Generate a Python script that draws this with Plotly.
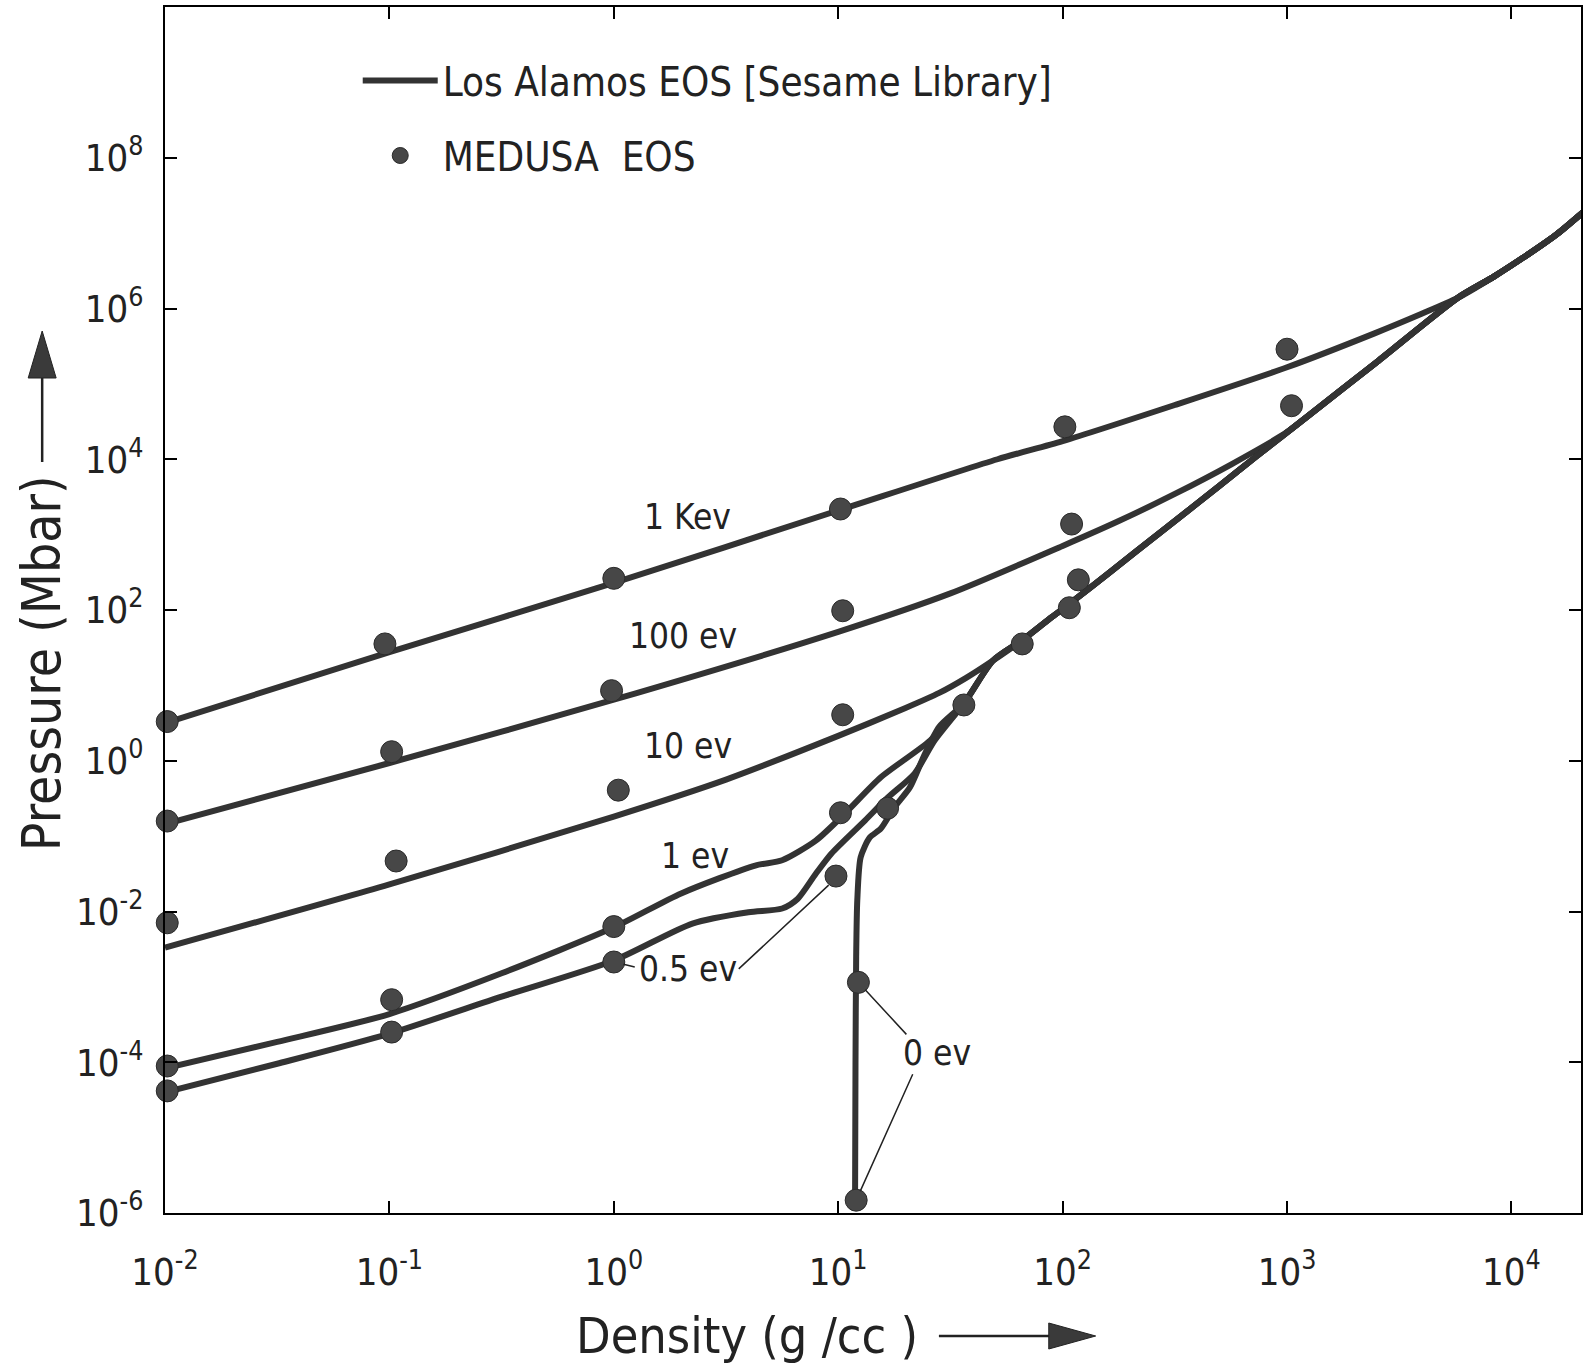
import plotly.graph_objects as go

# ---------------- data (log10 density g/cc, log10 pressure Mbar) ----------------
# Los Alamos EOS (Sesame) curves
KEV1_LOG_RHO = [-2.0, -1.0, 0.0, 1.0, 1.71, 2.0, 2.5, 3.0, 3.39, 3.6]
KEV1_LOG_P   = [0.50, 1.44, 2.36, 3.32, 4.00, 4.24, 4.72, 5.22, 5.67, 5.93]

EV100_LOG_RHO = [-2.0, -1.0, 0.0, 1.0, 1.5, 2.0, 2.25, 2.5, 2.75, 3.0]
EV100_LOG_P   = [-0.84, -0.03, 0.81, 1.71, 2.22, 2.85, 3.18, 3.54, 3.93, 4.36]

# high-density part shared by the merging curves
HOT_TAIL_LOG_RHO = [3.76, 3.92, 4.08, 4.2, 4.32]
HOT_TAIL_LOG_P   = [6.14, 6.42, 6.73, 6.98, 7.28]

COLD_MID_LOG_RHO = [1.69, 1.82, 1.94, 2.03, 2.21, 2.44, 2.7, 2.86, 3.1, 3.4]
COLD_MID_LOG_P   = [1.33, 1.60, 1.88, 2.08, 2.50, 3.04, 3.65, 4.03, 4.59, 5.29]

EV10_LOG_RHO = [-2.0, -1.0, 0.0, 0.5, 1.0, 1.3, 1.45, 1.57]
EV10_LOG_P   = [-2.48, -1.64, -0.74, -0.25, 0.33, 0.70, 0.90, 1.10]

EV1_LOG_RHO = [-2.0, -1.5, -1.0, -0.5, 0.0, 0.3, 0.63, 0.75, 0.90, 1.03, 1.19, 1.41, 1.56]
EV1_LOG_P   = [-4.08, -3.73, -3.36, -2.82, -2.21, -1.76, -1.39, -1.32, -1.06, -0.70, -0.22, 0.27, 0.76]

EV05_LOG_RHO = [-2.0, -1.5, -1.0, -0.5, 0.0, 0.35, 0.60, 0.75, 0.82, 0.90, 0.97, 1.12, 1.22, 1.34, 1.43, 1.56]
EV05_LOG_P   = [-4.40, -4.02, -3.62, -3.13, -2.65, -2.16, -2.01, -1.96, -1.83, -1.50, -1.23, -0.79, -0.49, -0.17, 0.27, 0.76]

EV0_LOG_RHO = [1.075, 1.077, 1.08, 1.085, 1.10, 1.14, 1.19, 1.25, 1.32, 1.38, 1.45, 1.56]
EV0_LOG_P   = [-5.90, -4.0, -2.6, -1.85, -1.28, -1.02, -0.90, -0.62, -0.35, 0.05, 0.45, 0.76]

# MEDUSA EOS points
M_KEV1_LOG_RHO = [-1.99, -1.02, 0.0, 1.01, 2.01, 3.0]
M_KEV1_LOG_P   = [0.52, 1.55, 2.42, 3.34, 4.43, 5.46]
M_EV100_LOG_RHO = [-1.99, -0.99, -0.01, 1.02, 2.04, 3.02]
M_EV100_LOG_P   = [-0.80, 0.12, 0.93, 1.99, 3.14, 4.71]
M_EV10_LOG_RHO = [-1.99, -0.97, 0.02, 1.02, 2.07]
M_EV10_LOG_P   = [-2.15, -1.33, -0.39, 0.61, 2.40]
M_EV1_LOG_RHO = [-1.99, -0.99, 0.0, 1.01, 2.03]
M_EV1_LOG_P   = [-4.05, -3.17, -2.20, -0.69, 2.03]
M_EV05_LOG_RHO = [-1.99, -0.99, 0.0, 0.99, 1.82]
M_EV05_LOG_P   = [-4.38, -3.60, -2.67, -1.53, 1.55]
M_EV0_LOG_RHO = [1.08, 1.09, 1.22, 1.56]
M_EV0_LOG_P   = [-5.83, -2.94, -0.63, 0.74]

X_TICK_EXP = [-2, -1, 0, 1, 2, 3, 4]
Y_TICK_EXP = [-6, -4, -2, 0, 2, 4, 6, 8]

# curve labels: (text, log rho, log p)
CURVE_LABELS = [("1 Kev", 0.33, 3.24), ("100 ev", 0.31, 1.66), ("10 ev", 0.33, 0.19),
                ("1 ev", 0.36, -1.27), ("0.5 ev", 0.33, -2.76), ("0 ev", 1.44, -3.88)]
# leader lines: (head log rho, head log p, tail log rho, tail log p)
LEADERS = [(0.0, -2.67, 0.10, -2.74), (0.99, -1.56, 0.55, -2.78),
           (1.09, -2.94, 1.31, -3.65), (1.08, -5.83, 1.335, -4.14)]

# ---------------- style ----------------
FONT = "DejaVu Sans Condensed, Liberation Sans Narrow, DejaVu Sans, sans-serif"
LINE_COLOR = "#333333"
DOT_COLOR = "#474747"
W, H = 1585, 1369
ML, MR, MT, MB = 165, 2, 7, 156
PW, PH = W - ML - MR, H - MT - MB


def p10(v):
    return [10 ** a for a in v]


def px(xp):
    return (xp - ML) / PW


def py(yp):
    return (H - MB - yp) / PH


fig = go.Figure()

curves = [
    (KEV1_LOG_RHO + HOT_TAIL_LOG_RHO, KEV1_LOG_P + HOT_TAIL_LOG_P),
    (EV100_LOG_RHO + COLD_MID_LOG_RHO[-2:] + HOT_TAIL_LOG_RHO,
     EV100_LOG_P + COLD_MID_LOG_P[-2:] + HOT_TAIL_LOG_P),
    (EV10_LOG_RHO + COLD_MID_LOG_RHO + HOT_TAIL_LOG_RHO, EV10_LOG_P + COLD_MID_LOG_P + HOT_TAIL_LOG_P),
    (EV1_LOG_RHO + COLD_MID_LOG_RHO + HOT_TAIL_LOG_RHO, EV1_LOG_P + COLD_MID_LOG_P + HOT_TAIL_LOG_P),
    (EV05_LOG_RHO + COLD_MID_LOG_RHO + HOT_TAIL_LOG_RHO, EV05_LOG_P + COLD_MID_LOG_P + HOT_TAIL_LOG_P),
    (EV0_LOG_RHO + COLD_MID_LOG_RHO + HOT_TAIL_LOG_RHO, EV0_LOG_P + COLD_MID_LOG_P + HOT_TAIL_LOG_P),
]
for i, (lx, ly) in enumerate(curves):
    fig.add_trace(go.Scatter(
        x=p10(lx), y=p10(ly), mode="lines",
        line=dict(color=LINE_COLOR, width=6, shape="spline", smoothing=0.7),
        name="Los Alamos EOS [Sesame Library]", legendgroup="lanl",
        showlegend=(i == 0)))

medusa = [(M_KEV1_LOG_RHO, M_KEV1_LOG_P), (M_EV100_LOG_RHO, M_EV100_LOG_P),
          (M_EV10_LOG_RHO, M_EV10_LOG_P), (M_EV1_LOG_RHO, M_EV1_LOG_P),
          (M_EV05_LOG_RHO, M_EV05_LOG_P), (M_EV0_LOG_RHO, M_EV0_LOG_P)]
for i, (lx, ly) in enumerate(medusa):
    fig.add_trace(go.Scatter(
        x=p10(lx), y=p10(ly), mode="markers",
        marker=dict(color=DOT_COLOR, size=22, line=dict(color="#2a2a2a", width=1)),
        name="MEDUSA  EOS", legendgroup="medusa", showlegend=(i == 0),
        cliponaxis=False))

for text, lx, ly in CURVE_LABELS:
    fig.add_annotation(x=lx, y=ly, xref="x", yref="y", text=text, showarrow=False,
                       font=dict(family=FONT, size=35, color="#222"))

for hx, hy, tx, ty in LEADERS:
    fig.add_annotation(x=hx, y=hy, xref="x", yref="y", ax=tx, ay=ty, axref="x", ayref="y",
                       text="", showarrow=True, arrowhead=0, arrowwidth=1.5,
                       arrowcolor="#222", standoff=10)

# axis titles
fig.add_annotation(x=px(41), y=py(663), xref="paper", yref="paper", text="Pressure (Mbar)",
                   textangle=-90, showarrow=False, xanchor="center", yanchor="middle",
                   font=dict(family=FONT, size=53, color="#222"))
fig.add_annotation(x=px(748), y=py(1336), xref="paper", yref="paper", text="Density (g /cc )",
                   showarrow=False, xanchor="center", yanchor="middle",
                   font=dict(family=FONT, size=50, color="#222"))

# title arrows
shapes = [
    dict(type="line", xref="paper", yref="paper", x0=px(42), x1=px(42), y0=py(462), y1=py(378),
         line=dict(color="#222", width=2.5)),
    dict(type="path", xref="paper", yref="paper",
         path=f"M {px(28)} {py(378)} L {px(56)} {py(378)} L {px(42)} {py(331)} Z",
         fillcolor="#3a3a3a", line=dict(color="#222", width=1)),
    dict(type="line", xref="paper", yref="paper", x0=px(940), x1=px(1052), y0=py(1336), y1=py(1336),
         line=dict(color="#222", width=2.5)),
    dict(type="path", xref="paper", yref="paper",
         path=f"M {px(1050)} {py(1323)} L {px(1050)} {py(1349)} L {px(1097)} {py(1336)} Z",
         fillcolor="#3a3a3a", line=dict(color="#222", width=1)),
]

axis_common = dict(type="log", showgrid=False, zeroline=False, showline=True,
                   linecolor="black", linewidth=2, mirror="ticks", ticks="inside",
                   ticklen=12, tickwidth=2, tickcolor="black",
                   tickfont=dict(family=FONT, size=38, color="#222"))

fig.update_xaxes(range=[-2, 4.31], tickvals=[10 ** k for k in X_TICK_EXP],
                 ticktext=[f"10<sup>{k}</sup>" for k in X_TICK_EXP],
                 ticklabelstandoff=24, **axis_common)
fig.update_yaxes(range=[-6, 10], tickvals=[10 ** k for k in Y_TICK_EXP],
                 ticktext=[f"10<sup>{k}</sup>" for k in Y_TICK_EXP],
                 ticklabelstandoff=12, **axis_common)

fig.update_layout(
    width=W, height=H, autosize=False,
    margin=dict(l=ML, r=MR, t=MT, b=MB),
    paper_bgcolor="white", plot_bgcolor="white",
    shapes=shapes,
    legend=dict(x=px(358), y=py(48), xanchor="left", yanchor="top",
                font=dict(family=FONT, size=40, color="#222"),
                tracegroupgap=20, bgcolor="rgba(0,0,0,0)", itemwidth=75),
    font=dict(family=FONT),
)

fig.write_html("out.html")
